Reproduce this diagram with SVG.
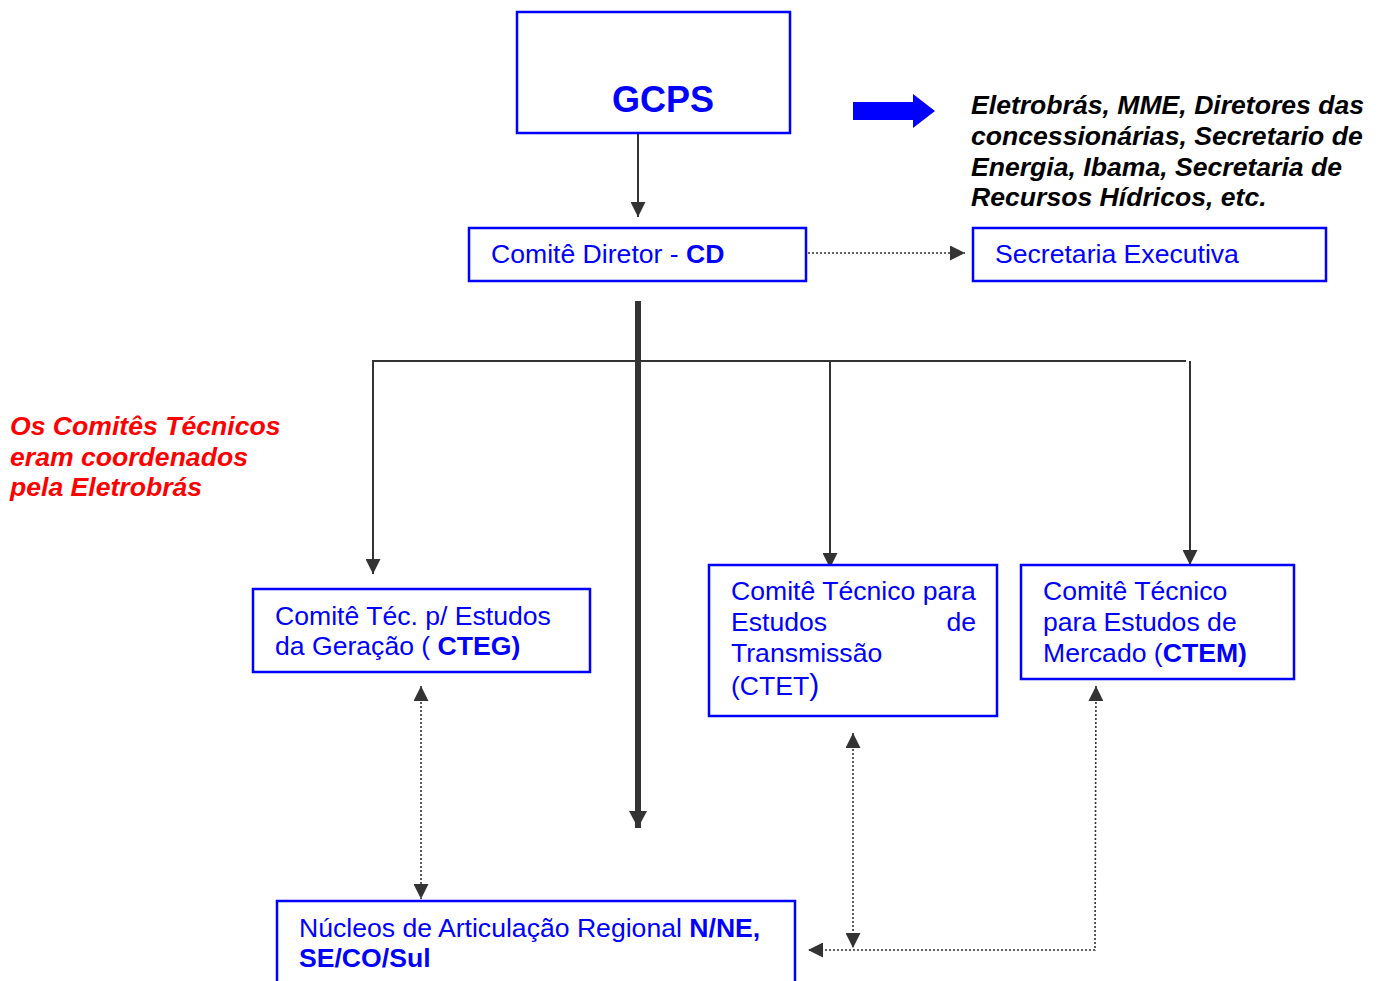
<svg xmlns="http://www.w3.org/2000/svg" width="1383" height="981" viewBox="0 0 1383 981">
  <style>
    .box { fill: #ffffff; stroke: #0000ff; stroke-width: 2.5; }
    .lbl { font-family: "Liberation Sans", Arial, sans-serif; font-size: 26.6px; fill: #0000ff; }
    .b { font-weight: bold; }
    .note { font-family: "Liberation Sans", Arial, sans-serif; font-size: 26.6px; font-weight: bold; font-style: italic; }
    .solid { fill: none; stroke: #333333; stroke-width: 2; }
    .thick { fill: none; stroke: #333333; stroke-width: 6; }
    .dot { fill: none; stroke: #333333; stroke-width: 1.6; stroke-dasharray: 2 2; }
  </style>
  <defs>
    <marker id="arr" viewBox="0 0 15 15" refX="15" refY="7.5" markerWidth="15" markerHeight="15" markerUnits="userSpaceOnUse" orient="auto-start-reverse">
      <path d="M0,0 L15,7.5 L0,15 z" fill="#333333"/>
    </marker>
    <marker id="arrBig" viewBox="0 0 17 18" refX="17" refY="9" markerWidth="17" markerHeight="18" markerUnits="userSpaceOnUse" orient="auto">
      <path d="M0,0 L17,9 L0,18 z" fill="#333333"/>
    </marker>
  </defs>

  <!-- connectors -->
  <g id="connectors">
    <line class="solid" x1="638" y1="133" x2="638" y2="217" marker-end="url(#arr)"/>
    <line class="dot" x1="808" y1="253" x2="965" y2="253" marker-end="url(#arr)"/>
    <line class="thick" x1="638" y1="301" x2="638" y2="828" marker-end="url(#arrBig)"/>
    <line class="solid" x1="373" y1="361" x2="1186" y2="361"/>
    <line class="solid" x1="373" y1="360" x2="373" y2="574" marker-end="url(#arr)"/>
    <line class="solid" x1="830" y1="361" x2="830" y2="568" marker-end="url(#arr)"/>
    <line class="solid" x1="1190" y1="361" x2="1190" y2="565" marker-end="url(#arr)"/>
    <line class="dot" x1="421" y1="686" x2="421" y2="899" marker-start="url(#arr)" marker-end="url(#arr)"/>
    <line class="dot" x1="853" y1="733" x2="853" y2="948" marker-start="url(#arr)" marker-end="url(#arr)"/>
    <polyline class="dot" points="1096,686 1095,950 808,950" marker-start="url(#arr)" marker-end="url(#arr)"/>
    <!-- blue block arrow toward the list of members -->
    <polygon points="853,102 913,102 913,94 935,111 913,128 913,120 853,120" fill="#0000ff"/>
  </g>

  <g id="gcps">
    <rect class="box" x="517" y="12" width="273" height="121"/>
    <text class="lbl b" x="663" y="112" text-anchor="middle" style="font-size:36px">GCPS</text>
  </g>

  <g id="members">
    <text class="note" fill="#000000">
      <tspan x="971" y="114">Eletrobrás, MME, Diretores das</tspan>
      <tspan x="971" y="145">concessionárias, Secretario de</tspan>
      <tspan x="971" y="176">Energia, Ibama, Secretaria de</tspan>
      <tspan x="971" y="206">Recursos Hídricos, etc.</tspan>
    </text>
  </g>

  <g id="cd">
    <rect class="box" x="469" y="228" width="337" height="53"/>
    <text class="lbl" x="491" y="263">Comitê Diretor - <tspan class="b">CD</tspan></text>
  </g>

  <g id="secretaria">
    <rect class="box" x="973" y="228" width="353" height="53"/>
    <text class="lbl" x="995" y="263">Secretaria Executiva</text>
  </g>

  <g id="nota">
    <text class="note" fill="#ff0000">
      <tspan x="10" y="435">Os Comitês Técnicos</tspan>
      <tspan x="10" y="466">eram coordenados</tspan>
      <tspan x="10" y="496">pela Eletrobrás</tspan>
    </text>
  </g>

  <g id="cteg">
    <rect class="box" x="253" y="589" width="337" height="83"/>
    <text class="lbl">
      <tspan x="275" y="625">Comitê Téc. p/ Estudos</tspan>
      <tspan x="275" y="655">da Geração ( <tspan class="b">CTEG)</tspan></tspan>
    </text>
  </g>

  <g id="ctet">
    <rect class="box" x="709" y="565" width="288" height="151"/>
    <text class="lbl">
      <tspan x="731" y="600">Comitê Técnico para</tspan>
      <tspan x="731" y="631">Estudos</tspan>
      <tspan x="731" y="662">Transmissão</tspan>
      <tspan x="731" y="695">(CTET<tspan style="font-size:30px">)</tspan></tspan>
    </text>
    <text class="lbl" x="976" y="631" text-anchor="end">de</text>
  </g>

  <g id="ctem">
    <rect class="box" x="1021" y="565" width="273" height="114"/>
    <text class="lbl">
      <tspan x="1043" y="600">Comitê Técnico</tspan>
      <tspan x="1043" y="631">para Estudos de</tspan>
      <tspan x="1043" y="662">Mercado (<tspan class="b">CTEM)</tspan></tspan>
    </text>
  </g>

  <g id="nucleos">
    <rect class="box" x="277" y="901" width="518" height="120"/>
    <text class="lbl">
      <tspan x="299" y="937">Núcleos de Articulação Regional <tspan class="b">N/NE,</tspan></tspan>
      <tspan x="299" y="967" class="b">SE/CO/Sul</tspan>
    </text>
  </g>
</svg>
